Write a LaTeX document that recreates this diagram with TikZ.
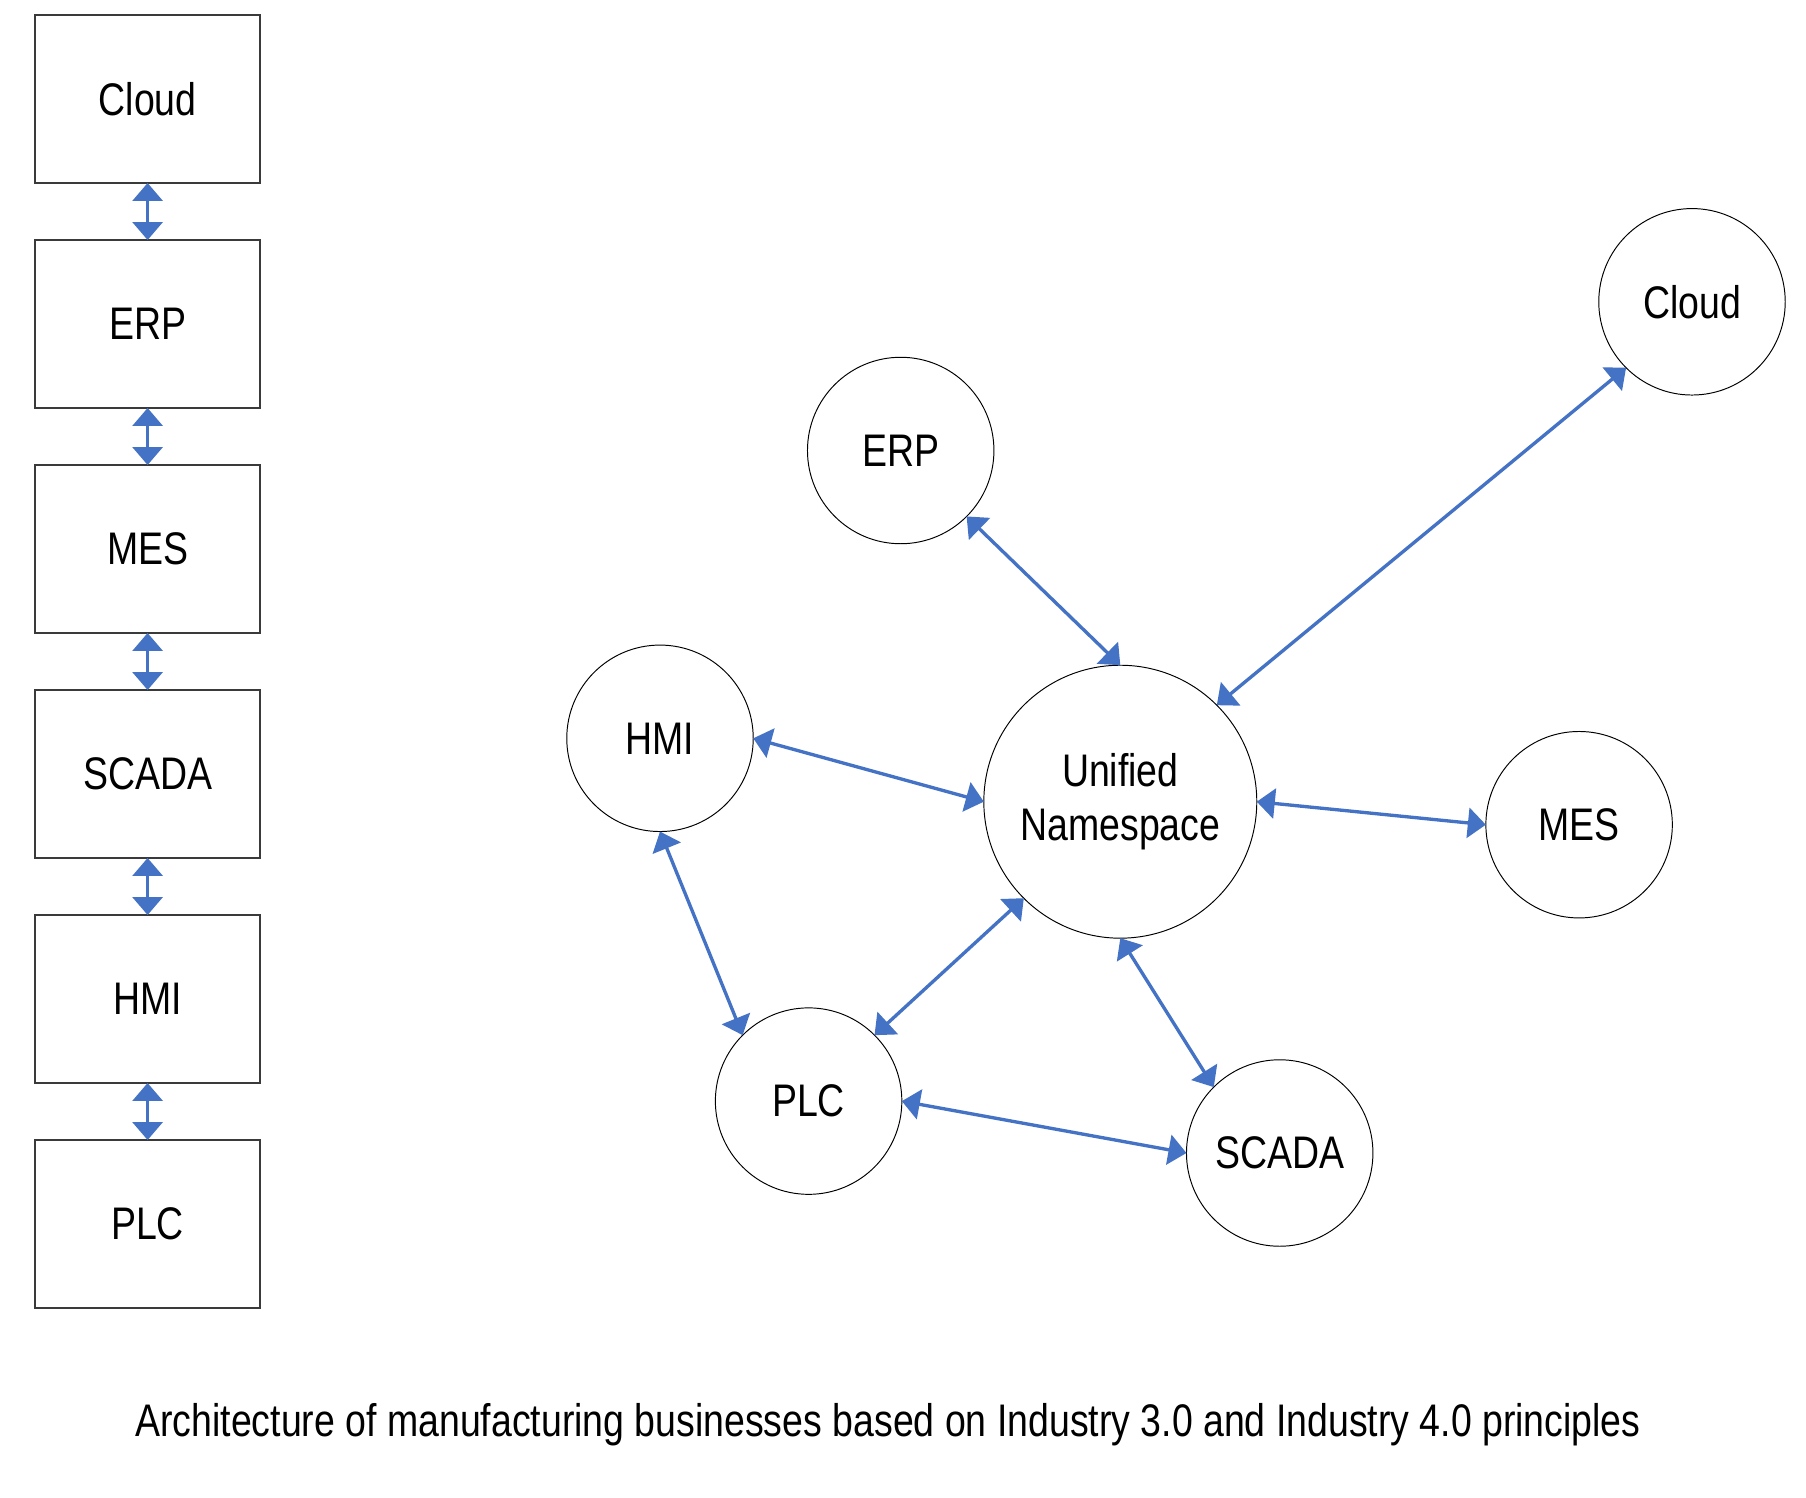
\documentclass[tikz,border=0pt]{standalone}
\usepackage{fontspec}
\setmainfont{Liberation Sans}[FakeStretch=0.82]
\usepackage{xcolor}
\usetikzlibrary{arrows.meta,positioning}
\definecolor{uaBlue}{HTML}{4472C4}
\definecolor{uaEdge}{HTML}{3A3A3A}

\begin{document}
\begin{tikzpicture}[x=0.02cm,y=-0.02cm,font=\fontsize{26}{31}\selectfont,
  layerbox/.style={draw=uaEdge,line width=0.8pt,fill=white,
    minimum width=4.5cm,minimum height=3.36cm,inner sep=0pt,outer sep=0pt},
  hubnode/.style={draw=black,line width=0.55pt,circle,fill=white,
    minimum size=3.73cm,inner sep=0pt,outer sep=0pt,align=center},
  link/.style={uaBlue,line width=1.9pt,
    {Triangle[width=0.6cm,length=0.36cm]}-{Triangle[width=0.6cm,length=0.36cm]}}]
  \useasboundingbox (0,0) rectangle (1806,1498);

  % Industry 3.0 stack
  \node[layerbox] (lCloud) at (147.6,99) {Cloud};
  \node[layerbox] (lERP) at (147.6,324) {ERP};
  \node[layerbox] (lMES) at (147.6,549) {MES};
  \node[layerbox] (lSCADA) at (147.6,774) {SCADA};
  \node[layerbox] (lHMI) at (147.6,999) {HMI};
  \node[layerbox] (lPLC) at (147.6,1224) {PLC};

  \draw[link] (lCloud) -- (lERP);
  \draw[link] (lERP) -- (lMES);
  \draw[link] (lMES) -- (lSCADA);
  \draw[link] (lSCADA) -- (lHMI);
  \draw[link] (lHMI) -- (lPLC);

  % Industry 4.0 hub
  \node[hubnode,minimum size=5.46cm] (uns) at (1120.3,801.7)
    {Unified\\Namespace};
  \node[hubnode] (cERP) at (900.7,450.5) {ERP};
  \node[hubnode] (cCloud) at (1692.0,301.8) {Cloud};
  \node[hubnode] (cHMI) at (660.0,738.3) {HMI};
  \node[hubnode] (cMES) at (1579.1,824.7) {MES};
  \node[hubnode] (cPLC) at (808.6,1101.1) {PLC};
  \node[hubnode] (cSCADA) at (1279.7,1153.0) {SCADA};

  \draw[link] (cERP.-45) -- (uns.90);
  \draw[link] (cCloud.225) -- (uns.45);
  \draw[link] (cHMI.east) -- (uns.west);
  \draw[link] (uns.east) -- (cMES.west);
  \draw[link] (cHMI.south) -- (cPLC.135);
  \draw[link] (cPLC.45) -- (uns.225);
  \draw[link] (uns.south) -- (cSCADA.135);
  \draw[link] (cPLC.east) -- (cSCADA.west);

  \node[anchor=base] (caption) at (888,1436.7)
    {Architecture of manufacturing businesses based on Industry 3.0 and Industry 4.0 principles};
\end{tikzpicture}
\end{document}
